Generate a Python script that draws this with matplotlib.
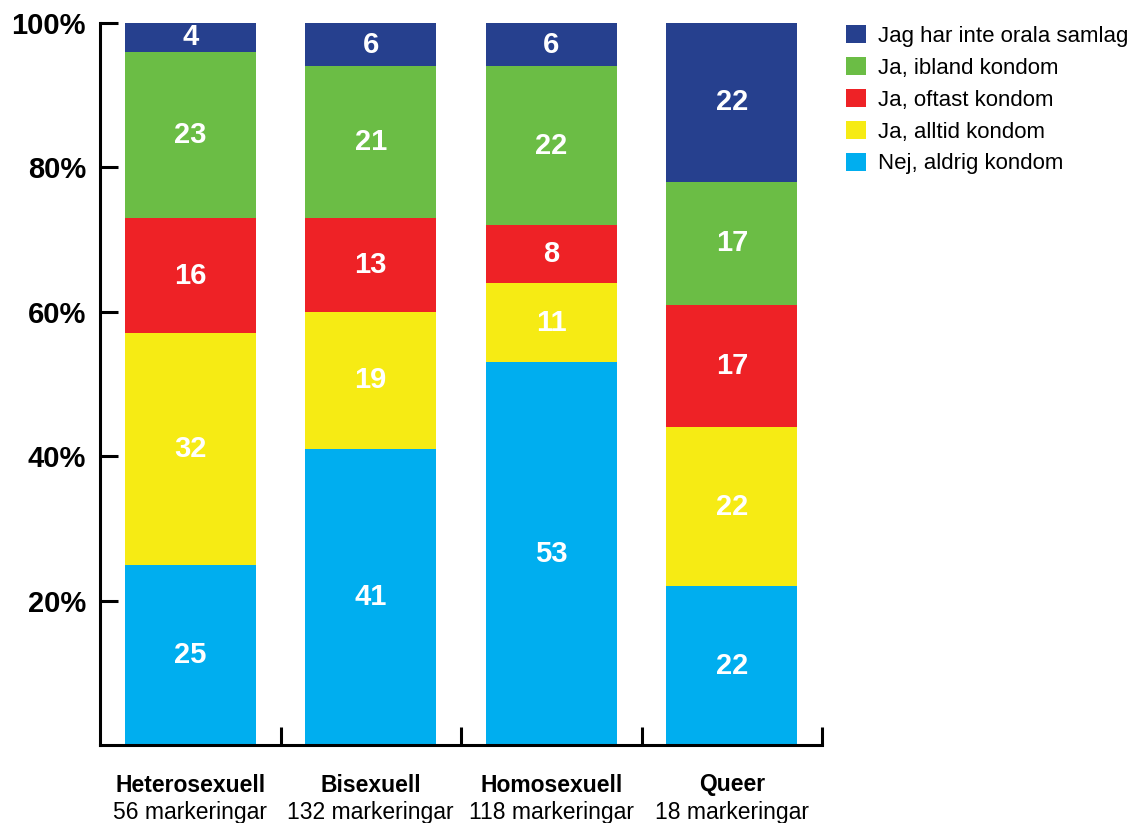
import matplotlib
matplotlib.use("Agg")
import matplotlib.pyplot as plt
from matplotlib.patches import Patch
import numpy as np

plt.rcParams['font.family'] = ['Liberation Sans', 'DejaVu Sans']

categories = ["Heterosexuell", "Bisexuell", "Homosexuell", "Queer"]
counts = ["56 markeringar", "132 markeringar", "118 markeringar", "18 markeringar"]
series_names = ["Nej, aldrig kondom", "Ja, alltid kondom", "Ja, oftast kondom",
                "Ja, ibland kondom", "Jag har inte orala samlag"]
aldrig = [25, 41, 53, 22]
alltid = [32, 19, 11, 22]
oftast = [16, 13, 8, 17]
ibland = [23, 21, 22, 17]
inte = [4, 6, 6, 22]
series = [aldrig, alltid, oftast, ibland, inte]
colors = ["#00AEEF", "#F6EB14", "#EE2226", "#6BBD45", "#26408E"]
yticks = [20, 40, 60, 80, 100]
ytick_labels = ["20%", "40%", "60%", "80%", "100%"]

W, H = 1131, 823
fig = plt.figure(figsize=(W / 100, H / 100), dpi=100)
ax = fig.add_axes([100 / W, (H - 745) / H, (822 - 100) / W, (745 - 23) / H])

x = np.arange(len(categories))
bottom = np.zeros(len(categories))
for vals, col, name in zip(series, colors, series_names):
    vals = np.array(vals, dtype=float)
    ax.bar(x, vals, bottom=bottom, width=0.726, color=col, label=name, linewidth=0)
    for xi, b, v in zip(x, bottom, vals):
        ax.text(xi, b + v / 2, f"{int(v)}", ha="center", va="center",
                color="white", fontsize=21, fontweight="bold")
    bottom += vals

ax.set_xlim(-0.5, 3.5)
ax.set_ylim(0, 100)
ax.spines['top'].set_visible(False)
ax.spines['right'].set_visible(False)
for s in ['left', 'bottom']:
    ax.spines[s].set_linewidth(2.2)

ax.set_yticks(yticks)
ax.set_yticklabels(ytick_labels, fontsize=21, fontweight="bold")
ax.tick_params(axis='y', direction='in', length=13, width=2.2, pad=10)

ax.set_xticks(x)
ax.set_xticklabels([])
ax.tick_params(axis='x', which='major', length=0)
ax.set_xticks([0.5, 1.5, 2.5, 3.5], minor=True)
ax.tick_params(axis='x', which='minor', direction='in', length=13, width=2.2)

trans = ax.get_xaxis_transform()
for xi, cat, cnt in zip(x, categories, counts):
    ax.text(xi, (745 - 785) / 722, cat, transform=trans, ha="center", va="center",
            fontsize=16.5, fontweight="bold")
    ax.text(xi, (745 - 812) / 722, cnt, transform=trans, ha="center", va="center",
            fontsize=16.5)

handles = [Patch(facecolor=c, edgecolor='none', label=n)
           for c, n in zip(colors[::-1], series_names[::-1])]
fig.legend(handles=handles, loc="upper left",
           bbox_to_anchor=(846 / W, (H - 25) / H), frameon=False,
           fontsize=16, handlelength=0.9, handleheight=0.9,
           handletextpad=0.55, labelspacing=0.45, borderpad=0, borderaxespad=0)

fig.savefig("out.png", dpi=100)
